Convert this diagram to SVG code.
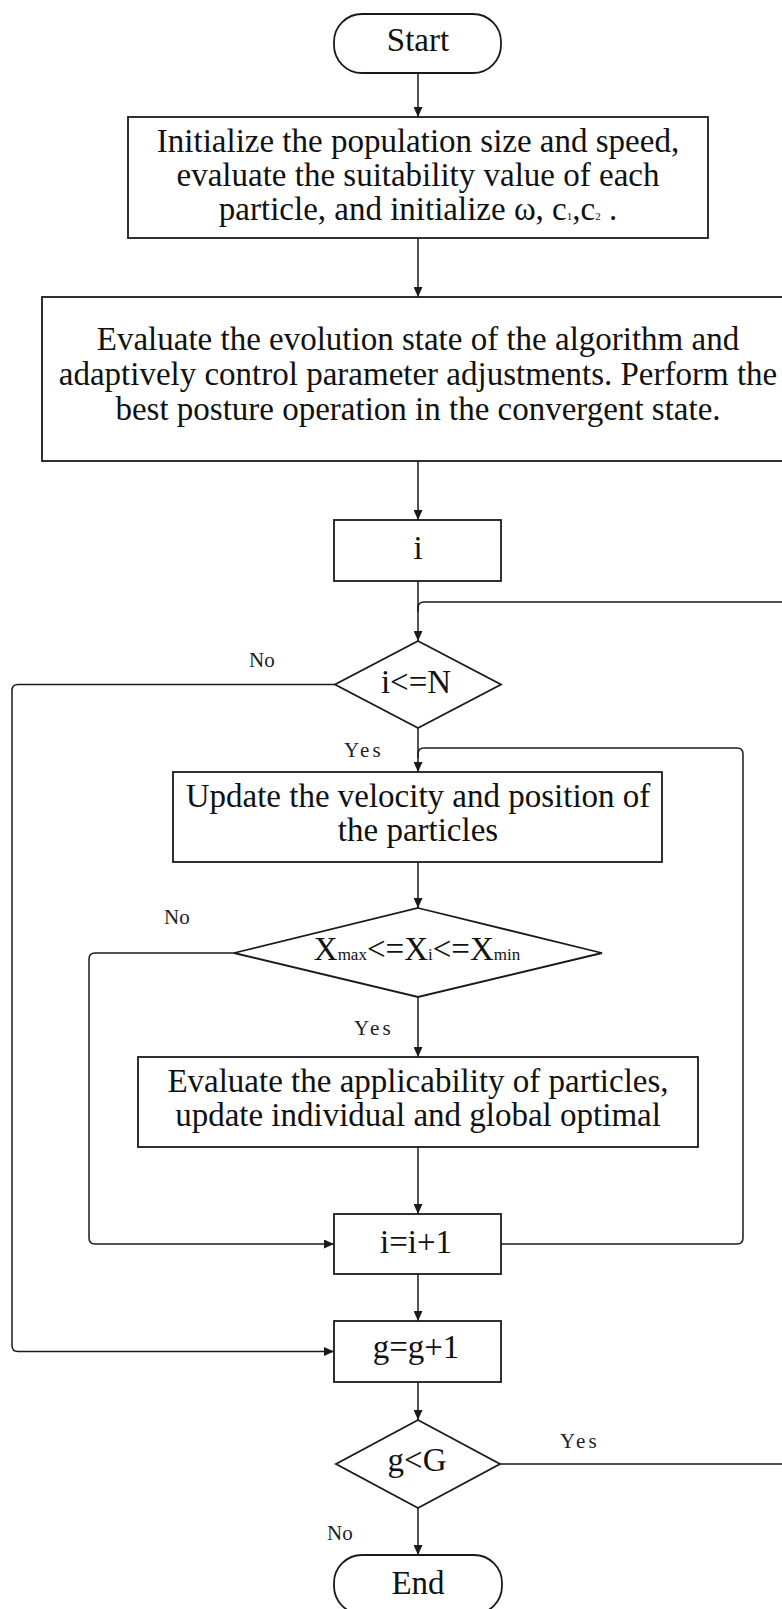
<svg xmlns="http://www.w3.org/2000/svg" width="782" height="1609" viewBox="0 0 782 1609">
<style>
.box{fill:#fff;stroke:#1a1a1a;stroke-width:1.8}
.ln{fill:none;stroke:#1a1a1a;stroke-width:1.5}
.t{font-family:"Liberation Serif","Times New Roman",serif;font-size:33px;fill:#111;text-anchor:middle}
.lb{font-family:"Liberation Serif","Times New Roman",serif;font-size:21px;fill:#222}
.sub{font-size:17px}
.tiny{font-size:11px}
</style>
<defs>
<marker id="ah" markerUnits="userSpaceOnUse" markerWidth="10" markerHeight="9" refX="10" refY="4.5" orient="auto">
<path d="M0,0 L10,4.5 L0,9 z" fill="#1a1a1a"/>
</marker>
</defs>
<rect width="782" height="1609" fill="#fff"/>
<g id="connectors">
<path class="ln" d="M418 73 V117" marker-end="url(#ah)"/>
<path class="ln" d="M418 238 V297" marker-end="url(#ah)"/>
<path class="ln" d="M418 461 V520" marker-end="url(#ah)"/>
<path class="ln" d="M418 581 V641" marker-end="url(#ah)"/>
<path class="ln" d="M500 1464 H785 V602 H424 Q418 602 418 608 V612"/>
<path class="ln" d="M418 728 V772" marker-end="url(#ah)"/>
<path class="ln" d="M501 1244 H737 Q743 1244 743 1238 V754 Q743 748 737 748 H424 Q418 748 418 754 V758"/>
<path class="ln" d="M335 684.5 H18 Q12 684.5 12 690.5 V1345.5 Q12 1351.5 18 1351.5 H334" marker-end="url(#ah)"/>
<path class="ln" d="M418 862 V908" marker-end="url(#ah)"/>
<path class="ln" d="M234 953 H95 Q89 953 89 959 V1238 Q89 1244 95 1244 H334" marker-end="url(#ah)"/>
<path class="ln" d="M418 997 V1057" marker-end="url(#ah)"/>
<path class="ln" d="M418 1147 V1214" marker-end="url(#ah)"/>
<path class="ln" d="M418 1274 V1321" marker-end="url(#ah)"/>
<path class="ln" d="M418 1382 V1420" marker-end="url(#ah)"/>
<path class="ln" d="M418 1508 V1555" marker-end="url(#ah)"/>
<text class="lb" x="249" y="667">No</text>
<text class="lb" x="344" y="757" letter-spacing="3">Yes</text>
<text class="lb" x="164" y="924">No</text>
<text class="lb" x="354" y="1035" letter-spacing="3">Yes</text>
<text class="lb" x="560" y="1448" letter-spacing="3">Yes</text>
<text class="lb" x="327" y="1540">No</text>
</g>
<g id="start">
<rect class="box" x="334" y="14" width="167" height="59" rx="28" ry="28"/>
<text class="t" x="418" y="51">Start</text>
</g>
<g id="init">
<rect class="box" x="128" y="117" width="580" height="121"/>
<text class="t" x="418" y="152">Initialize the population size and speed,</text>
<text class="t" x="418" y="186">evaluate the suitability value of each</text>
<text class="t" x="418" y="220">particle, and initialize ω, c<tspan class="tiny">1</tspan>,c<tspan class="tiny">2</tspan> .</text>
</g>
<g id="evaluate-state">
<rect class="box" x="42" y="297" width="762" height="164"/>
<text class="t" x="418" y="350">Evaluate the evolution state of the algorithm and</text>
<text class="t" x="418" y="385">adaptively control parameter adjustments. Perform the</text>
<text class="t" x="418" y="420">best posture operation in the convergent state.</text>
</g>
<g id="i-box">
<rect class="box" x="334" y="520" width="167" height="61"/>
<text class="t" x="418" y="559">i</text>
</g>
<g id="cond-i">
<path class="box" d="M418 641 L501 684.5 L418 728 L335 684.5 Z"/>
<text class="t" x="416" y="693">i&lt;=N</text>
</g>
<g id="update">
<rect class="box" x="173" y="772" width="489" height="90"/>
<text class="t" x="418" y="807">Update the velocity and position of</text>
<text class="t" x="418" y="841">the particles</text>
</g>
<g id="cond-x">
<path class="box" d="M418 908 L602 953 L418 997 L234 953 Z"/>
<text class="t" x="417" y="960">X<tspan class="sub">max</tspan>&lt;=X<tspan class="sub">i</tspan>&lt;=X<tspan class="sub">min</tspan></text>
</g>
<g id="evaluate-fitness">
<rect class="box" x="138" y="1057" width="560" height="90"/>
<text class="t" x="418" y="1092">Evaluate the applicability of particles,</text>
<text class="t" x="418" y="1126">update individual and global optimal</text>
</g>
<g id="inc-i">
<rect class="box" x="334" y="1214" width="167" height="60"/>
<text class="t" x="416" y="1253">i=i+1</text>
</g>
<g id="inc-g">
<rect class="box" x="334" y="1321" width="167" height="61"/>
<text class="t" x="416" y="1358">g=g+1</text>
</g>
<g id="cond-g">
<path class="box" d="M418 1420 L500 1464 L418 1508 L336 1464 Z"/>
<text class="t" x="417" y="1471">g&lt;G</text>
</g>
<g id="end">
<rect class="box" x="334" y="1555" width="168" height="59" rx="28" ry="28"/>
<text class="t" x="418" y="1594">End</text>
</g>
</svg>
